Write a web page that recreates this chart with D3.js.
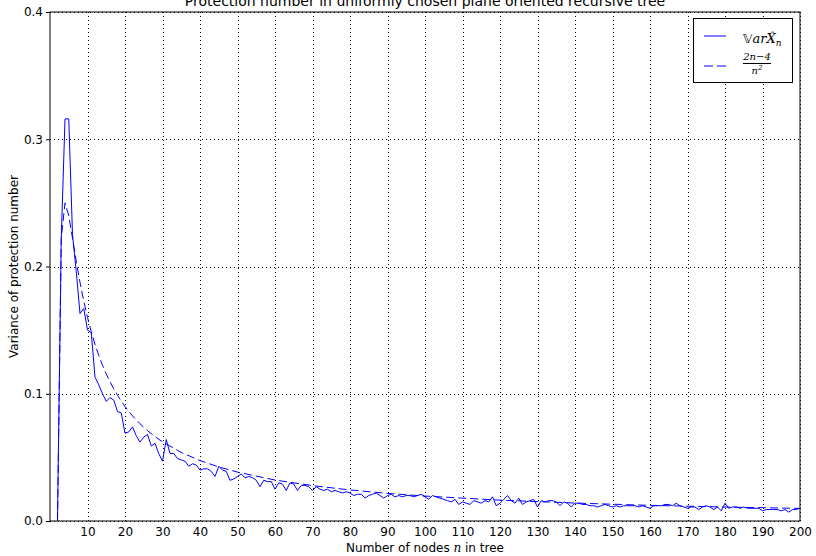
<!DOCTYPE html>
<html>
<head>
<meta charset="utf-8">
<script src="https://cdn.jsdelivr.net/npm/d3@7/dist/d3.min.js"></script>
<style>
  body { margin: 0; background: #fff; }
  text { font-family: "DejaVu Sans", sans-serif; fill: #000; }
</style>
</head>
<body>
<svg id="chart"></svg>
<script>
// jshint esversion : 6
// empirical variance, one value per n starting at n = 2
const firstN = 2;
const varValues = [
  0.000, 0.222, 0.316, 0.316, 0.225, 0.196, 0.163, 0.167, 0.150,
  0.148, 0.113, 0.107, 0.100, 0.094, 0.097, 0.095, 0.086, 0.085, 0.069,
  0.070, 0.074, 0.067, 0.062, 0.066, 0.068, 0.059, 0.061, 0.053, 0.047,
  0.064, 0.053, 0.053, 0.049, 0.048, 0.047, 0.043, 0.045, 0.044, 0.040,
  0.041, 0.041, 0.039, 0.035, 0.043, 0.040, 0.039, 0.032, 0.033, 0.035,
  0.037, 0.034, 0.035, 0.034, 0.032, 0.027, 0.032, 0.031, 0.031, 0.025,
  0.030, 0.029, 0.024, 0.030, 0.029, 0.024, 0.028, 0.028, 0.027, 0.024,
  0.027, 0.025, 0.024, 0.025, 0.023, 0.024, 0.023, 0.022, 0.023, 0.022,
  0.020, 0.021, 0.021, 0.018, 0.020, 0.021, 0.022, 0.020, 0.018, 0.020,
  0.021, 0.019, 0.020, 0.019, 0.020, 0.020, 0.019, 0.020, 0.021, 0.019,
  0.017, 0.020, 0.019, 0.018, 0.017, 0.016, 0.015, 0.017, 0.013, 0.015,
  0.014, 0.013, 0.016, 0.015, 0.014, 0.016, 0.015, 0.019, 0.012, 0.014,
  0.017, 0.020, 0.016, 0.014, 0.018, 0.013, 0.015, 0.016, 0.017, 0.011,
  0.016, 0.015, 0.016, 0.016, 0.015, 0.012, 0.015, 0.014, 0.011, 0.014,
  0.014, 0.013, 0.013, 0.012, 0.012, 0.011, 0.012, 0.013, 0.012, 0.011,
  0.012, 0.011, 0.012, 0.012, 0.012, 0.012, 0.011, 0.012, 0.011, 0.010,
  0.012, 0.012, 0.012, 0.013, 0.013, 0.012, 0.014, 0.012, 0.011, 0.010,
  0.011, 0.011, 0.009, 0.011, 0.012, 0.011, 0.009, 0.011, 0.008, 0.014,
  0.010, 0.011, 0.011, 0.010, 0.011, 0.010, 0.010, 0.010, 0.010, 0.008,
  0.009, 0.009, 0.009, 0.009, 0.008, 0.009, 0.007, 0.009, 0.009, 0.010
];

// reference curve (2n-4)/n^2, read at these n
const refN = [2, 3, 4, 5, 6, 7, 8, 9, 10, 11, 12, 13, 14, 15, 16, 17, 18, 19, 20,
  22, 24, 26, 28, 30, 35, 40, 45, 50, 60, 70, 80, 90, 100, 120, 140, 160, 180, 200];
const refValues = [0, 0.2222, 0.25, 0.24, 0.2222, 0.2041, 0.1875, 0.1728, 0.16,
  0.1488, 0.1389, 0.1302, 0.1224, 0.1156, 0.1094, 0.1038, 0.0988, 0.0942, 0.09,
  0.0826, 0.0764, 0.071, 0.0663, 0.0622, 0.0539, 0.0475, 0.0425, 0.0384,
  0.0322, 0.0278, 0.0244, 0.0217, 0.0196, 0.0164, 0.0141, 0.0123, 0.011, 0.0099];

const xTicks = [10, 20, 30, 40, 50, 60, 70, 80, 90, 100, 110, 120, 130, 140, 150,
  160, 170, 180, 190, 200];
const yTicks = [0.0, 0.1, 0.2, 0.3, 0.4];

const width = 816, height = 556;
const margin = { top: 12, right: 16, bottom: 35, left: 50 };
const plotW = width - margin.left - margin.right;
const plotH = height - margin.top - margin.bottom;

const svg = d3.select('#chart').attr('width', width).attr('height', height);

const x = d3.scaleLinear().domain([0, 200]).range([0, plotW]);
const y = d3.scaleLinear().domain([0, 0.4]).range([plotH, 0]);

const g = svg.append('g')
  .attr('transform', 'translate(' + margin.left + ',' + margin.top + ')');

// dotted grid
g.append('g')
  .selectAll('line')
  .data(xTicks)
  .enter()
  .append('line')
  .attr('x1', d => Math.round(x(d)) + 0.5)
  .attr('x2', d => Math.round(x(d)) + 0.5)
  .attr('y1', 0)
  .attr('y2', plotH)
  .attr('stroke', '#000')
  .attr('stroke-dasharray', '1,3');

g.append('g')
  .selectAll('line')
  .data(yTicks)
  .enter()
  .append('line')
  .attr('x1', 0)
  .attr('x2', plotW)
  .attr('y1', d => Math.round(y(d)) + 0.5)
  .attr('y2', d => Math.round(y(d)) + 0.5)
  .attr('stroke', '#000')
  .attr('stroke-dasharray', '1,3');

// axes
const xAxis = g.append('g')
  .attr('transform', 'translate(0,' + plotH + ')')
  .call(d3.axisBottom(x).tickValues(xTicks).tickSize(0).tickPadding(6));
const yAxis = g.append('g')
  .call(d3.axisLeft(y).tickValues(yTicks).tickFormat(d3.format('.1f'))
    .tickSize(4).tickPadding(3));
[xAxis, yAxis].forEach(a => {
  a.select('.domain').remove();
  a.selectAll('text').attr('font-size', 12).attr('font-family', '"DejaVu Sans", sans-serif');
  a.selectAll('line').attr('stroke', '#000');
});

// series
const solidData = varValues.map((v, i) => ({ n: firstN + i, v: v }));
const refData = refValues.map((v, i) => ({ n: refN[i], v: v }));
const line = d3.line().x(d => x(d.n)).y(d => y(d.v));

g.append('path')
  .datum(refData)
  .attr('d', line)
  .attr('fill', 'none')
  .attr('stroke', '#0000ff')
  .attr('stroke-width', 1)
  .attr('stroke-dasharray', '8,4');

g.append('path')
  .datum(solidData)
  .attr('d', line)
  .attr('fill', 'none')
  .attr('stroke', '#0000ff')
  .attr('stroke-width', 1);

// frame
g.append('rect')
  .attr('x', 0)
  .attr('y', 0)
  .attr('width', plotW)
  .attr('height', plotH)
  .attr('fill', 'none')
  .attr('stroke', '#000')
  .attr('stroke-width', 1);

// legend
const lg = g.append('g').attr('transform', 'translate(' + (plotW - 107) + ',6)');
lg.append('rect')
  .attr('x', 0.5)
  .attr('y', 0.5)
  .attr('width', 99)
  .attr('height', 64)
  .attr('fill', '#fff')
  .attr('stroke', '#000');
lg.append('line')
  .attr('x1', 11).attr('x2', 33).attr('y1', 18).attr('y2', 18)
  .attr('stroke', '#0000ff');
lg.append('line')
  .attr('x1', 11).attr('x2', 33).attr('y1', 48).attr('y2', 48)
  .attr('stroke', '#0000ff')
  .attr('stroke-dasharray', '9,4');

const t1 = lg.append('text')
  .attr('x', 50)
  .attr('y', 25)
  .attr('font-size', 13)
  .style('font-family', '"DejaVu Serif", serif')
  .style('font-style', 'italic');
t1.append('tspan').style('font-style', 'normal')
  .style('font-family', '"DejaVu Sans", sans-serif').text('𝕍');
t1.append('tspan').text('ar');
t1.append('tspan').attr('class', 'hatX').text('X');
t1.append('tspan').attr('font-size', 9).attr('dy', 3).text('n');
const xBox = t1.select('.hatX').node().getExtentOfChar(0);
lg.append('text')
  .attr('x', xBox.x + xBox.width / 2 + 1.5)
  .attr('y', 21)
  .attr('text-anchor', 'middle')
  .attr('font-size', 10)
  .style('font-family', '"DejaVu Serif", serif')
  .text('ˆ');

lg.append('text')
  .attr('x', 64)
  .attr('y', 42)
  .attr('text-anchor', 'middle')
  .attr('font-size', 10)
  .style('font-family', '"DejaVu Serif", serif')
  .style('font-style', 'italic')
  .text('2n−4');
lg.append('line')
  .attr('x1', 50).attr('x2', 78).attr('y1', 45.5).attr('y2', 45.5)
  .attr('stroke', '#000');
const den = lg.append('text')
  .attr('x', 64)
  .attr('y', 56)
  .attr('text-anchor', 'middle')
  .attr('font-size', 10)
  .style('font-family', '"DejaVu Serif", serif')
  .style('font-style', 'italic');
den.append('tspan').text('n');
den.append('tspan').attr('font-size', 7).attr('dy', -4).text('2');

// labels
svg.append('text')
  .attr('x', margin.left + plotW / 2)
  .attr('y', 6)
  .attr('text-anchor', 'middle')
  .attr('font-size', 14)
  .text('Protection number in uniformly chosen plane oriented recursive tree');

const xl = svg.append('text')
  .attr('x', margin.left + plotW / 2)
  .attr('y', 552)
  .attr('text-anchor', 'middle')
  .attr('font-size', 12);
xl.append('tspan').text('Number of nodes ');
xl.append('tspan').style('font-family', '"DejaVu Serif", serif')
  .style('font-style', 'italic').text('n');
xl.append('tspan').text(' in tree');

svg.append('text')
  .attr('transform', 'translate(18,' + (margin.top + plotH / 2) + ') rotate(-90)')
  .attr('text-anchor', 'middle')
  .attr('font-size', 12)
  .text('Variance of protection number');
</script>
</body>
</html>
